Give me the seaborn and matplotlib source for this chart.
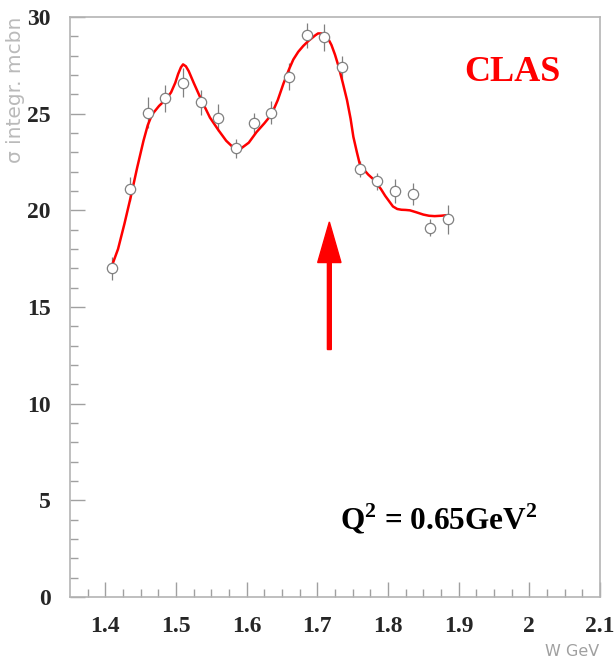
import numpy as np
import pandas as pd
import matplotlib
matplotlib.use("Agg")
import matplotlib.pyplot as plt
import seaborn as sns

w_data = [1.41, 1.435, 1.46, 1.485, 1.51, 1.535, 1.56, 1.585, 1.61, 1.635,
          1.66, 1.685, 1.71, 1.735, 1.76, 1.785, 1.81, 1.835, 1.86, 1.885]
sigma_data = [17.0, 21.1, 25.05, 25.8, 26.6, 25.6, 24.8, 23.2, 24.5, 25.05,
              26.9, 29.05, 28.95, 27.4, 22.15, 21.5, 21.0, 20.85, 19.1, 19.55]
sigma_err = [0.6, 0.6, 0.8, 0.7, 0.75, 0.65, 0.7, 0.5, 0.55, 0.6,
             0.7, 0.65, 0.7, 0.6, 0.4, 0.45, 0.6, 0.55, 0.45, 0.75]

# fit curve (red)
w_fit = [1.409, 1.418, 1.427, 1.436, 1.445, 1.454, 1.460, 1.466, 1.476, 1.486,
         1.493, 1.499, 1.503, 1.507, 1.510, 1.514, 1.518, 1.525, 1.536, 1.548,
         1.560, 1.571, 1.581, 1.592, 1.603, 1.614, 1.625, 1.635, 1.644, 1.652,
         1.660, 1.666, 1.673, 1.680, 1.687, 1.692, 1.697, 1.701, 1.706, 1.711,
         1.715, 1.720, 1.725, 1.730, 1.736, 1.742, 1.747, 1.751, 1.756, 1.760,
         1.766, 1.772, 1.778, 1.784, 1.790, 1.796, 1.802, 1.807, 1.813, 1.819,
         1.825, 1.831, 1.840, 1.850, 1.858, 1.866, 1.875, 1.883]
sigma_fit = [17.1, 18.0, 19.3, 20.7, 22.2, 23.6, 24.4, 24.95, 25.4, 25.75,
             26.1, 26.6, 27.05, 27.4, 27.55, 27.45, 27.2, 26.6, 25.7, 24.8,
             24.15, 23.6, 23.25, 23.2, 23.5, 24.05, 24.5, 24.95, 25.7, 26.55,
             27.3, 27.8, 28.2, 28.5, 28.75, 28.9, 29.05, 29.15, 29.15, 29.05,
             28.9, 28.55, 28.05, 27.45, 26.6, 25.7, 24.75, 23.8, 23.0, 22.4,
             22.1, 21.85, 21.65, 21.4, 21.1, 20.75, 20.45, 20.2, 20.07, 20.03,
             20.02, 20.0, 19.9, 19.78, 19.72, 19.7, 19.72, 19.75]

arrow_w = 1.717
arrow_lo, arrow_hi = 12.8, 19.4

df = pd.DataFrame({"W": w_data, "sigma": sigma_data, "err": sigma_err})
fit = pd.DataFrame({"W": w_fit, "sigma": sigma_fit})

sns.set_style("white")
plt.rcParams["font.family"] = ["Liberation Serif", "DejaVu Serif"]
plt.rcParams["mathtext.fontset"] = "custom"
plt.rcParams["mathtext.bf"] = "Liberation Serif:bold"
plt.rcParams["mathtext.rm"] = "Liberation Serif:bold"

fig = plt.figure(figsize=(6.14, 6.61), dpi=100)
ax = fig.add_axes([70 / 614, 64 / 661, 530 / 614, 580 / 661])

gray = "#a0a0a0"
ax.errorbar(df["W"], df["sigma"], yerr=df["err"], fmt="none",
            ecolor="#808080", elinewidth=0.9, capsize=0, zorder=2)
sns.lineplot(data=fit, x="W", y="sigma", sort=False, color="red",
             linewidth=1.8, ax=ax, zorder=3)
sns.scatterplot(data=df, x="W", y="sigma", marker="o", s=55,
                facecolor="white", edgecolor="#808080", linewidth=0.9,
                ax=ax, zorder=4)

# arrow marking the resonance
ax.arrow(arrow_w, arrow_lo, 0, arrow_hi - arrow_lo, width=0.0055,
         head_width=0.033, head_length=2.1, length_includes_head=True,
         color="red", zorder=5)

ax.set_xlim(1.35, 2.1)
ax.set_ylim(0, 30)
ax.set_xticks([1.4, 1.5, 1.6, 1.7, 1.8, 1.9, 2.0, 2.1])
ax.set_xticklabels(["1.4", "1.5", "1.6", "1.7", "1.8", "1.9", "2", "2.1"])
ax.set_yticks([0, 5, 10, 15, 20, 25, 30])
ax.set_xticks(np.arange(1.375, 2.1, 0.025), minor=True)
ax.set_yticks(np.arange(0, 30, 1), minor=True)
ax.tick_params(which="both", bottom=True, left=True, top=False, right=False)
ax.tick_params(which="major", direction="in", length=11, width=1,
               color=gray, labelsize=17, pad=14)
ax.tick_params(which="minor", direction="in", length=5.5, width=1, color=gray)
for lab in ax.get_xticklabels() + ax.get_yticklabels():
    lab.set_fontweight("bold")
for sp in ax.spines.values():
    sp.set_color("#b4b4b4")
    sp.set_linewidth(1.2)

ax.set_xlabel("")
ax.set_ylabel("")
fig.text(16 / 614, 1 - 17 / 661, "σ integr. mcbn", rotation=90, ha="center",
         va="top", color="#bababa", fontsize=14.5, family=["DejaVu Sans"])
fig.text(599 / 614, 1 - 651 / 661, "W GeV", ha="right", va="center",
         color=gray, fontsize=11.5, family=["DejaVu Sans"])

ax.text(0.835, 0.905, "CLAS", transform=ax.transAxes, ha="center",
        va="center", color="red", fontsize=26, fontweight="bold")
ax.text(0.695, 0.135, r"Q$^{\mathbf{2}}$ = 0.65GeV$^{\mathbf{2}}$",
        transform=ax.transAxes, ha="center", va="center", color="black",
        fontsize=22.5, fontweight="bold")

fig.savefig("out.png", dpi=100)
